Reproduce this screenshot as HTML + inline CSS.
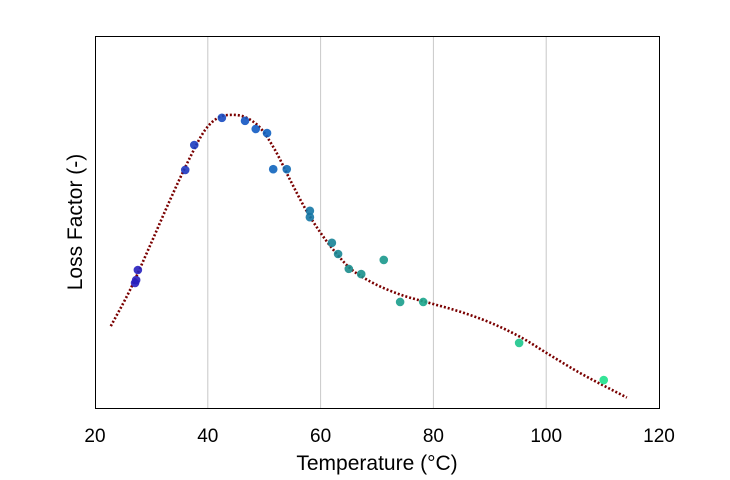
<!DOCTYPE html>
<html><head><meta charset="utf-8"><style>
body{margin:0;background:#fff;width:730px;height:475px;overflow:hidden}
svg text{font-family:"Liberation Sans",Arial,sans-serif;fill:#000}
</style></head><body>
<svg id="chart" width="730" height="475" xmlns="http://www.w3.org/2000/svg">
<g id="grid"></g>
<g id="curve"></g>
<g id="pts"></g>
<rect x="95.5" y="36.5" width="564" height="372" fill="none" stroke="#000" stroke-width="1"/>
<g id="xt"></g>
<text x="377" y="470" font-size="21" text-anchor="middle">Temperature (°C)</text>
<text transform="translate(82,222) rotate(-90)" font-size="21" text-anchor="middle">Loss Factor (-)</text>
</svg>
<script>
const xTicks=[20,40,60,80,100,120];
const tempVals=[27.1,27.3,27.6,36.0,37.6,42.5,46.6,48.5,50.5,51.6,54.0,58.1,58.1,62.0,63.1,65.0,67.2,71.2,74.1,78.2,95.2,110.2];
const lossVals=[33.6,34.4,37.1,64.0,70.7,78.0,77.2,75.0,73.9,64.2,64.2,53.0,51.3,44.4,41.4,37.4,36.0,39.8,28.5,28.5,17.5,7.5];
const fitT=[22.8,26.2,29.8,33.3,36.8,39.5,41.8,44.3,46.6,49.3,51.9,54.6,57.2,59.9,62.6,65.2,68.8,74.1,79.4,84.7,90.0,95.4,100.7,106.0,114.3];
const fitV=[22.0,31.7,43.8,55.9,67.2,74.7,78.0,78.8,78.2,75.3,69.4,61.3,53.8,47.3,41.9,37.6,34.0,30.5,28.2,25.9,23.0,19.1,14.2,9.4,2.8];
const NS='http://www.w3.org/2000/svg';
const X=t=>95+(t-20)*5.64, Y=v=>408-v*3.72;
const mk=(tag,attrs,parent)=>{const e=document.createElementNS(NS,tag);for(const k in attrs)e.setAttribute(k,attrs[k]);document.getElementById(parent).appendChild(e);return e;};
xTicks.forEach(t=>{
  if(t>20&&t<120){const g=mk('line',{x1:X(t),x2:X(t),y1:37,y2:408,stroke:'#c8c8c8','stroke-width':1},'grid');
  
  }
  const l=mk('text',{x:X(t),y:442,'font-size':19,'text-anchor':'middle'},'xt');l.textContent=t;
  
  
});
// monotone cubic (Fritsch-Carlson) in data space
const n=fitT.length, dl=[], m=[];
for(let i=0;i<n-1;i++)dl.push((fitV[i+1]-fitV[i])/(fitT[i+1]-fitT[i]));
m[0]=dl[0];m[n-1]=dl[n-2];
for(let i=1;i<n-1;i++)m[i]=(dl[i-1]*dl[i]<=0)?0:(dl[i-1]+dl[i])/2;
for(let i=0;i<n-1;i++){if(dl[i]===0){m[i]=m[i+1]=0;continue;}const a=m[i]/dl[i],b=m[i+1]/dl[i],s=a*a+b*b;if(s>9){const tt=3/Math.sqrt(s);m[i]=tt*a*dl[i];m[i+1]=tt*b*dl[i];}}
let d='M'+X(fitT[0])+','+Y(fitV[0]);
for(let i=0;i<n-1;i++){const h=fitT[i+1]-fitT[i];
d+=` C${X(fitT[i]+h/3)},${Y(fitV[i]+m[i]*h/3)} ${X(fitT[i+1]-h/3)},${Y(fitV[i+1]-m[i+1]*h/3)} ${X(fitT[i+1])},${Y(fitV[i+1])}`;}
const c=mk('path',{d:d,fill:'none',stroke:'#7a0000','stroke-width':2.6,'stroke-dasharray':'2 2'},'curve');


const stops=[[27,[40,30,190]],[50,[15,95,195]],[65,[25,140,140]],[110,[30,225,140]]];
function col(t){if(t<=stops[0][0])return stops[0][1];for(let i=0;i<stops.length-1;i++){const a=stops[i],b=stops[i+1];if(t<=b[0]){const f=(t-a[0])/(b[0]-a[0]);return a[1].map((v,j)=>Math.round(v+(b[1][j]-v)*f));}}return stops[stops.length-1][1];}
tempVals.forEach((t,i)=>{const cc=col(t);
  const p=mk('circle',{cx:X(t),cy:Y(lossVals[i]),r:4.3,fill:`rgb(${cc})`,'fill-opacity':0.9},'pts');
  
  
});
</script>
</body></html>
